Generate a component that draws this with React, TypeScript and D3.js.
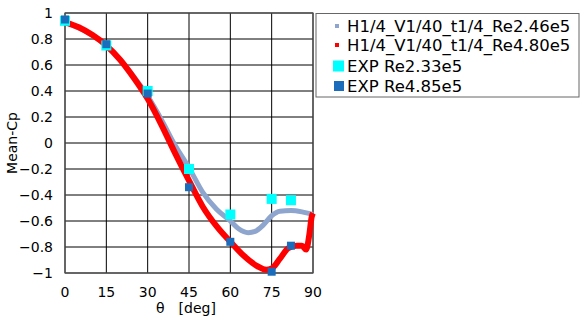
import * as d3 from 'd3'

// curve samples (theta deg, mean Cp)
const re246Theta = [0, 15, 25, 30, 35, 40, 45, 50, 55, 60, 63, 66.5, 69, 72, 75, 78, 82, 86, 90]
const re246Cp = [0.93, 0.75, 0.51, 0.36, 0.18, -0.02, -0.19, -0.38, -0.51, -0.6, -0.66, -0.69, -0.68, -0.63, -0.56, -0.525, -0.52, -0.53, -0.55]

const re480Theta = [0, 5, 10, 15, 20, 25, 30, 35, 40, 45, 50, 55, 60, 65, 70, 73, 75, 78, 81, 84, 86, 87.5, 88.7, 89.5, 90]
const re480Cp = [0.93, 0.89, 0.83, 0.75, 0.64, 0.5, 0.34, 0.14, -0.08, -0.29, -0.49, -0.64, -0.76, -0.87, -0.95, -0.975, -0.965, -0.89, -0.81, -0.79, -0.79, -0.82, -0.7, -0.57, -0.54]

const expTheta = [0, 15, 30, 45, 60, 75, 82]
const exp233Cp = [0.94, 0.75, 0.4, -0.2, -0.55, -0.43, -0.44]
const exp485Cp = [0.95, 0.76, 0.38, -0.34, -0.76, -0.99, -0.79]

const xTicks = [0, 15, 30, 45, 60, 75, 90]
const yTicks = [1, 0.8, 0.6, 0.4, 0.2, 0, -0.2, -0.4, -0.6, -0.8, -1]

const legendLabels = [
  'H1/4_V1/40_t1/4_Re2.46e5',
  'H1/4_V1/40_t1/4_Re4.80e5',
  'EXP Re2.33e5',
  'EXP Re4.85e5',
]

const font = '"DejaVu Sans", sans-serif'

export default function App() {
  const margin = { top: 13, left: 65, right: 313, bottom: 273 }
  const x = d3.scaleLinear().domain([0, 90]).range([margin.left, margin.right])
  const y = d3.scaleLinear().domain([-1, 1]).range([margin.bottom, margin.top])

  const line = d3.line<[number, number]>()
    .x(d => x(d[0]))
    .y(d => y(d[1]))
    .curve(d3.curveMonotoneX)

  const blue = line(re246Theta.map((t, i) => [t, re246Cp[i]]))
  const red = line(re480Theta.map((t, i) => [t, re480Cp[i]]))

  const fmt = (v: number) => (v < 0 ? '−' + String(Math.abs(+v.toFixed(1))) : String(+v.toFixed(1)))

  return (
    <svg width={582} height={320} style={{ position: 'absolute', left: 0, top: 0, background: '#fff' }}>
      {/* grid */}
      {yTicks.map(t => (
        <line key={'gy' + t} x1={margin.left} x2={margin.right} y1={y(t)} y2={y(t)} stroke="#000" strokeWidth={1} />
      ))}
      {xTicks.map(t => (
        <line key={'gx' + t} x1={x(t)} x2={x(t)} y1={margin.top} y2={margin.bottom} stroke="#000" strokeWidth={1} />
      ))}
      <rect x={margin.left} y={margin.top} width={margin.right - margin.left} height={margin.bottom - margin.top}
        fill="none" stroke="#555" strokeWidth={1.2} />

      {/* tick labels */}
      {yTicks.map(t => (
        <text key={'ly' + t} x={53} y={y(t) + 5} textAnchor="end" fontFamily={font} fontSize={14} fill="#000">
          {fmt(t)}
        </text>
      ))}
      {xTicks.map(t => (
        <text key={'lx' + t} x={x(t)} y={297} textAnchor="middle" fontFamily={font} fontSize={14} fill="#000">
          {t}
        </text>
      ))}
      <text x={186} y={313} textAnchor="middle" fontFamily={font} fontSize={14} fill="#000">θ　[deg]</text>
      <text transform={`translate(17,${y(0)}) rotate(-90)`} textAnchor="middle" fontFamily={font} fontSize={14} fill="#000">
        Mean-Cp
      </text>

      {/* curves */}
      <path d={blue ?? ''} fill="none" stroke="#8EA5CE" strokeWidth={5} strokeLinejoin="round" />
      <path d={red ?? ''} fill="none" stroke="#FF0000" strokeWidth={6} strokeLinejoin="round" />

      {/* experiments */}
      {expTheta.map((t, i) => (
        <rect key={'c' + t} x={x(t) - 5} y={y(exp233Cp[i]) - 5} width={10} height={10} fill="#00FFFF" />
      ))}
      {expTheta.map((t, i) => (
        <rect key={'d' + t} x={x(t) - 4} y={y(exp485Cp[i]) - 4} width={8} height={8} fill="#1B6CBA" />
      ))}

      {/* legend */}
      <rect x={316} y={13.5} width={263} height={83.5} fill="#fff" stroke="#666" strokeWidth={1} />
      {legendLabels.map((lab, i) => {
        const cy = [26, 45, 66, 86][i]
        let marker
        if (i === 0) marker = <rect x={335} y={cy - 2} width={4} height={4} fill="#8EA5CE" />
        else if (i === 1) marker = <rect x={335} y={cy - 2} width={4} height={4} fill="#FF0000" />
        else if (i === 2) marker = <rect x={333} y={cy - 5.5} width={11} height={11} fill="#00FFFF" />
        else marker = <rect x={334} y={cy - 5} width={10} height={10} fill="#1B6CBA" />
        return (
          <g key={lab}>
            {marker}
            <text x={347} y={cy + 6} fontFamily={font} fontSize={16.5} fill="#000">{lab}</text>
          </g>
        )
      })}
    </svg>
  )
}
